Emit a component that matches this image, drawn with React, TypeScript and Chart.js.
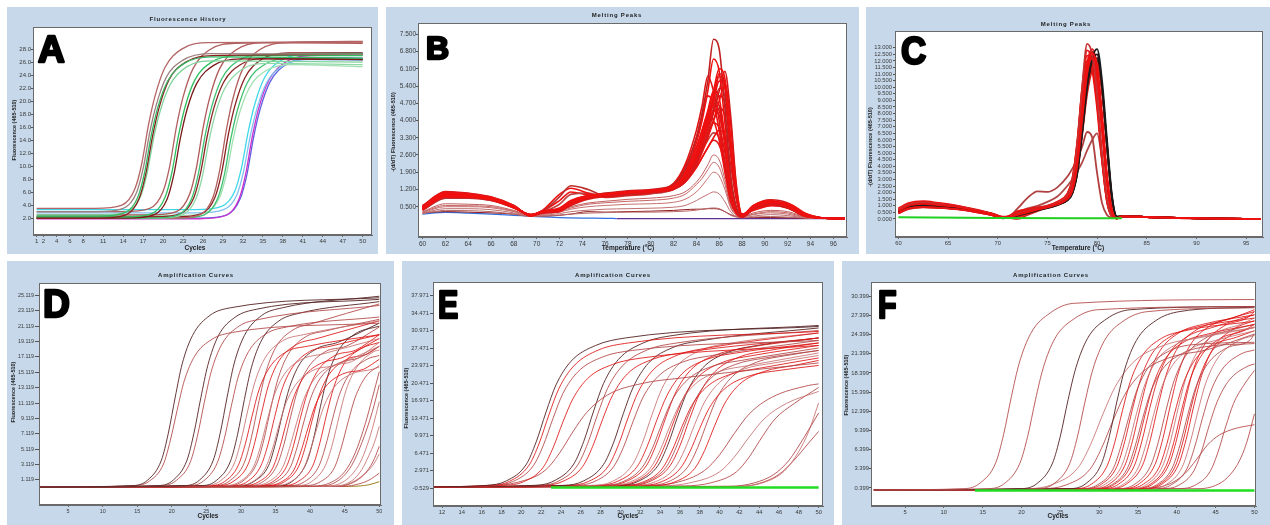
import React, { useEffect, useRef } from 'react';
import { Chart, registerables } from 'chart.js';
Chart.register(...registerables);

const FONT = '"Liberation Sans", Arial, sans-serif';
const PANEL_BG = '#c6d8ea';
const K = 'rgba(85,35,35,0.9)';
const R = 'rgba(222,20,20,0.85)';
const P = 'rgba(178,68,68,0.85)';
const L = 'rgba(200,112,112,0.85)';

// ---------- Panel A : Fluorescence History ----------
const aXTicks = [1, 2, 4, 6, 8, 11, 14, 17, 20, 23, 26, 29, 32, 35, 38, 41, 44, 47, 50];
const aYTicks = [2, 4, 6, 8, 10, 12, 14, 16, 18, 20, 22, 24, 26, 28];
const aCurves = [
  [1,3.5, 9.8,3.5, 13.8,4.0, 15.8,6.6, 16.8,10.4, 17.8,16.3, 18.8,20.8, 20.3,25.2, 22.8,28.0, 26.8,29.0, 50,29.1],
  [1,3.0, 10,3.0, 14,3.5, 16,5.9, 17,9.6, 18,15.2, 19,19.5, 20.5,23.7, 23,26.3, 27,27.3, 50,27.2],
  [1,2.3, 10.2,2.3, 14.2,2.8, 16.2,5.2, 17.2,8.9, 18.2,14.6, 19.2,19.0, 20.7,23.1, 23.2,25.8, 27.2,26.8, 50,26.6],
  [1,2.0, 10.4,2.0, 14.4,2.5, 16.4,5.0, 17.4,8.8, 18.4,14.5, 19.4,19.0, 20.9,23.3, 23.4,26.0, 27.4,27.0, 50,27.2],
  [1,2.5, 10.6,2.5, 14.6,3.0, 16.6,5.3, 17.6,8.9, 18.6,14.4, 19.6,18.6, 21.1,22.6, 23.6,25.3, 27.6,26.2, 50,26.0],
  [1,3.0, 14,3.0, 18,3.5, 20,6.1, 21,10.0, 22,16.0, 23,20.6, 24.5,25.0, 27,27.9, 31,28.9, 50,29.1],
  [1,2.2, 14.3,2.2, 18.3,2.7, 20.3,5.2, 21.3,8.9, 22.3,14.6, 23.3,19.1, 24.8,23.3, 27.3,26.0, 31.3,27.0, 50,27.0],
  [1,2.0, 14.6,2.0, 18.6,2.5, 20.6,4.9, 21.6,8.6, 22.6,14.3, 23.6,18.7, 25.1,22.8, 27.6,25.5, 31.6,26.5, 50,26.4],
  [1,2.5, 18,2.5, 22,3.0, 24,5.7, 25,9.7, 26,15.8, 27,20.5, 28.5,25.0, 31,27.9, 35,29.0, 50,28.9],
  [1,2.0, 18.3,2.0, 22.3,2.5, 24.3,5.0, 25.3,8.8, 26.3,14.6, 27.3,19.1, 28.8,23.4, 31.3,26.2, 35.3,27.2, 50,27.3],
  [1,2.2, 18.6,2.2, 22.6,2.7, 24.6,5.1, 25.6,8.8, 26.6,14.4, 27.6,18.8, 29.1,22.9, 31.6,25.6, 35.6,26.6, 50,26.4],
  [1,2.0, 18.9,2.0, 22.9,2.5, 24.9,4.9, 25.9,8.4, 26.9,13.9, 27.9,18.2, 29.4,22.2, 31.9,24.9, 35.9,25.8, 50,25.6],
  [1,2.0, 21.5,2.0, 25.5,2.5, 27.5,5.2, 28.5,9.3, 29.5,15.5, 30.5,20.4, 32,25.0, 34.5,27.9, 38.5,29.0, 50,29.2],
  [1,2.2, 21.8,2.2, 25.8,2.7, 27.8,5.2, 28.8,9.0, 29.8,14.8, 30.8,19.3, 32.3,23.6, 34.8,26.4, 38.8,27.4, 50,27.4],
  [1,2.0, 22.2,2.0, 26.2,2.5, 28.2,5.0, 29.2,8.6, 30.2,14.3, 31.2,18.7, 32.7,22.9, 35.2,25.6, 39.2,26.6, 50,26.5],
  [1,2.4, 22.5,2.4, 26.5,2.9, 28.5,5.2, 29.5,8.7, 30.5,14.0, 31.5,18.2, 33,22.1, 35.5,24.7, 39.5,25.6, 50,25.3],
  [1,3.3, 24.8,3.3, 28.8,3.8, 30.8,6.2, 31.8,9.8, 32.8,15.3, 33.8,19.6, 35.3,23.7, 37.8,26.3, 41.8,27.3, 50,27.4],
  [1,2.8, 25.1,2.8, 29.1,3.3, 31.1,5.6, 32.1,9.2, 33.1,14.6, 34.1,18.8, 35.6,22.9, 38.1,25.5, 42.1,26.4, 50,26.3],
  [1,1.9, 25.4,1.9, 29.4,2.4, 31.4,4.9, 32.4,8.7, 33.4,14.5, 34.4,19.0, 35.9,23.2, 38.4,26.0, 42.4,27.0, 50,27.1],
  [1,2.0, 25.6,2.0, 29.6,2.5, 31.6,5.0, 32.6,8.7, 33.6,14.4, 34.6,18.8, 36.1,23.0, 38.6,25.7, 42.6,26.7, 50,26.6],
];
const aColors = ['#b56565', '#9c7f7f', '#33b864', '#8b1c1c', '#7fd39a', '#b06060', '#2fbf5f', '#7a1a1a', '#b05858', '#3cc070',
  '#8b2525', '#90d8a8', '#b46060', '#8b2020', '#40c070', '#a0e0b0', '#40d8e8', '#80c0f0', '#cc30cc', '#6060e0'];

// ---------- Panel B : Melting Peaks ----------
const bXTicks = [60, 62, 64, 66, 68, 70, 72, 74, 76, 78, 80, 82, 84, 86, 88, 90, 92, 94, 96];
const bYTicks = [0.5, 1.2, 1.9, 2.6, 3.3, 4.0, 4.7, 5.4, 6.1, 6.8, 7.5];
const bTemps = [60, 62, 64, 66, 68, 69.5, 70.5, 72, 73, 74.5, 76, 78, 80, 82, 83, 84, 84.5, 85, 85.5, 86, 86.5, 87, 87.5, 88, 89, 90.5, 92, 93.5, 95, 97];
const bCurves = [
  [0.45,1.05,0.98,0.85,0.5,0.15,0.3,0.38,0.7,0.92, 1.0,1.1,1.15,1.3,1.75,2.7,3.4,4.3,5.2,6.1, 5.7,3.3,1.1,0.15,0.5,0.7,0.55,0.15,0.04,0.02],
  [0.5,1.1,1.02,0.88,0.55,0.12,0.25,0.3,0.6,0.85, 0.95,1.05,1.1,1.25,1.6,2.5,3.2,4.1,5.0,5.9, 5.5,3.0,0.9,0.12,0.45,0.65,0.6,0.2,0.04,0.02],
  [0.4,0.95,0.92,0.8,0.48,0.18,0.32,0.45,0.75,0.95, 1.02,1.12,1.18,1.35,1.8,2.6,3.2,4.0,4.8,5.6, 5.3,3.1,1.0,0.18,0.55,0.75,0.5,0.12,0.04,0.02],
  [0.55,1.12,1.05,0.9,0.55,0.14,0.26,0.32,0.55,0.8, 0.92,1.02,1.08,1.22,1.5,2.2,2.8,3.5,4.3,5.2, 6.0,4.2,1.4,0.2,0.4,0.6,0.5,0.15,0.04,0.02],
  [0.48,1.0,0.95,0.82,0.5,0.16,0.3,0.36,0.65,0.88, 0.98,1.08,1.12,1.28,1.55,2.2,2.7,3.3,4.0,4.8, 5.5,3.9,1.3,0.2,0.35,0.55,0.62,0.25,0.05,0.02],
  [0.42,0.98,0.95,0.83,0.5,0.15,0.28,0.4,0.72,0.95, 1.05,1.15,1.2,1.4,2.0,3.3,4.3,5.6,7.3,6.9, 4.5,1.8,0.5,0.1,0.45,0.6,0.45,0.12,0.04,0.02],
  [0.5,1.08,1.0,0.86,0.52,0.13,0.27,0.33,0.62,0.86, 0.96,1.06,1.1,1.32,1.9,3.1,4.0,5.2,6.5,6.0, 3.9,1.5,0.4,0.1,0.5,0.72,0.6,0.2,0.04,0.02],
  [0.45,1.0,0.96,0.84,0.5,0.15,0.29,0.36,0.68,0.9, 1.0,1.1,1.15,1.45,2.2,3.6,4.6,5.8,5.2,4.0, 2.2,0.8,0.25,0.08,0.4,0.55,0.45,0.12,0.04,0.02],
  [0.38,0.9,0.88,0.78,0.46,0.17,0.31,0.42,0.72,0.92, 1.0,1.08,1.14,1.35,1.85,2.9,3.6,4.4,5.2,4.9, 3.3,1.3,0.35,0.1,0.48,0.68,0.55,0.18,0.04,0.02],
  [0.52,1.06,0.99,0.86,0.53,0.14,0.27,0.34,0.6,0.85, 0.94,1.03,1.08,1.28,1.75,2.7,3.4,4.1,4.8,4.6, 3.2,1.4,0.4,0.12,0.55,0.78,0.65,0.22,0.05,0.02],
  [0.44,0.96,0.93,0.81,0.49,0.16,0.3,0.4,0.7,0.9, 0.99,1.09,1.14,1.4,2.1,3.3,4.2,5.0,4.7,3.6, 2.1,0.8,0.25,0.08,0.42,0.6,0.5,0.15,0.04,0.02],
  [0.47,1.02,0.97,0.84,0.51,0.15,0.28,0.37,0.66,0.88, 0.97,1.06,1.12,1.27,1.65,2.4,3.0,3.7,4.4,5.0, 4.7,2.8,0.9,0.15,0.5,0.72,0.58,0.18,0.04,0.02],
  [0.4,0.92,0.9,0.79,0.47,0.16,0.3,0.39,0.68,0.9, 0.98,1.07,1.12,1.3,1.7,2.6,3.2,3.8,4.4,4.2, 3.0,1.3,0.4,0.12,0.45,0.65,0.52,0.16,0.04,0.02],
  [0.5,1.04,0.98,0.85,0.52,0.14,0.27,0.35,0.62,0.86, 0.95,1.04,1.1,1.25,1.6,2.3,2.8,3.4,4.0,4.5, 4.2,2.6,0.9,0.15,0.48,0.7,0.62,0.2,0.04,0.02],
  [0.43,0.94,0.91,0.8,0.48,0.16,0.3,0.4,0.7,0.9, 0.98,1.07,1.12,1.35,1.9,2.9,3.6,4.2,4.0,3.2, 1.9,0.7,0.22,0.08,0.4,0.58,0.48,0.14,0.04,0.02],
  [0.46,0.98,0.94,0.82,0.5,0.15,0.29,0.37,0.65,0.87, 0.96,1.05,1.1,1.25,1.6,2.4,2.9,3.4,3.9,3.7, 2.7,1.2,0.38,0.12,0.45,0.62,0.5,0.15,0.04,0.02],
  [0.42,0.93,0.9,0.79,0.47,0.16,0.3,0.4,0.68,0.88, 0.96,1.05,1.1,1.22,1.5,2.1,2.5,2.9,3.3,3.6, 3.4,2.2,0.8,0.15,0.42,0.6,0.5,0.15,0.04,0.02],
  [0.5,1.02,0.96,0.84,0.51,0.15,0.28,0.36,0.64,0.86, 0.95,1.04,1.09,1.2,1.5,2.1,2.5,2.9,3.2,3.0, 2.2,1.0,0.35,0.12,0.5,0.7,0.6,0.2,0.04,0.02],
  [0.35,0.85,0.85,0.75,0.45,0.18,0.3,0.9,1.35,1.2, 0.95,1.0,1.08,1.25,1.6,2.4,3.0,3.7,4.5,5.3, 5.0,3.0,1.0,0.15,0.45,0.65,0.5,0.15,0.04,0.02],
  [0.38,0.88,0.87,0.77,0.46,0.17,0.35,1.0,1.25,1.05, 0.9,0.98,1.06,1.28,1.75,2.7,3.3,3.95,4.6,4.4, 3.1,1.3,0.4,0.12,0.5,0.7,0.55,0.18,0.04,0.02],
  [0.4,0.9,0.88,0.78,0.47,0.17,0.28,0.6,1.0,1.05, 0.88,0.95,1.02,1.2,1.55,2.3,2.8,3.2,3.5,3.3, 2.4,1.1,0.35,0.1,0.45,0.62,0.5,0.15,0.04,0.02],
  [0.36,0.86,0.86,0.76,0.46,0.18,0.32,0.75,1.1,0.98, 0.92,1.02,1.1,1.26,1.65,2.5,3.1,3.9,4.8,5.8, 5.4,3.1,1.0,0.15,0.4,0.55,0.45,0.12,0.04,0.02],
  [0.3,0.62,0.6,0.55,0.35,0.15,0.22,0.35,0.5,0.65, 0.72,0.8,0.85,0.95,1.1,1.5,1.8,2.2,2.6,2.4, 1.6,0.6,0.2,0.1,0.25,0.35,0.3,0.1,0.03,0.02],
  [0.28,0.55,0.54,0.5,0.32,0.14,0.2,0.32,0.45,0.6, 0.66,0.72,0.76,0.85,1.0,1.4,1.65,2.0,2.3,2.1, 1.4,0.5,0.18,0.1,0.2,0.3,0.25,0.08,0.03,0.02],
  [0.26,0.5,0.5,0.46,0.3,0.14,0.18,0.28,0.4,0.5, 0.55,0.6,0.62,0.68,0.8,1.1,1.35,1.65,1.9,1.75, 1.2,0.45,0.15,0.08,0.18,0.25,0.2,0.06,0.03,0.02],
  [0.24,0.42,0.42,0.38,0.25,0.12,0.15,0.22,0.3,0.36, 0.4,0.42,0.44,0.48,0.55,0.75,0.88,1.0,1.1,1.02, 0.7,0.3,0.1,0.06,0.12,0.18,0.14,0.05,0.02,0.02],
  [0.22,0.35,0.34,0.3,0.2,0.1,0.12,0.16,0.2,0.24, 0.26,0.28,0.28,0.3,0.32,0.36,0.4,0.43,0.45,0.42, 0.3,0.15,0.08,0.05,0.08,0.1,0.08,0.04,0.02,0.02],
  [0.25,0.3,0.28,0.25,0.2,0.12,0.12,0.15,0.2,0.3, 0.28,0.3,0.32,0.35,0.38,0.4,0.4,0.42,0.42,0.4, 0.3,0.18,0.1,0.06,0.06,0.06,0.05,0.03,0.02,0.02],
];
const bColors = ['#f01010', '#e81212', '#f01010', '#d81818', '#f01010', '#c02020', '#f01010', '#e01515', '#f01010', '#d01a1a',
  '#f01010', '#e81212', '#f01010', '#c82020', '#f01010', '#e01515', '#f01010', '#d81818', '#b83030', '#f01010',
  '#c04040', '#f01010', '#c06060', '#c86464', '#c87070', '#c07070', '#b86a6a', '#901818'];
const bBlueX = [60, 62, 64, 66, 68, 70, 72, 74, 76, 77];
const bBlueY = [0.2, 0.27, 0.24, 0.2, 0.15, 0.1, 0.06, 0.04, 0.03, 0.02];
const bFlatX = [77, 97];
const bFlatY = [0.02, 0.02];

// ---------- Panel C : Melting Peaks ----------
const cXTicks = [60, 65, 70, 75, 80, 85, 90, 95];
const cYTicks = [0, 0.5, 1, 1.5, 2, 2.5, 3, 3.5, 4, 4.5, 5, 5.5, 6, 6.5, 7, 7.5, 8, 8.5, 9, 9.5, 10, 10.5, 11, 11.5, 12, 12.5, 13];
const cTemps = [60, 61, 62.5, 64, 66, 68, 69.5, 70.5, 71, 72, 73, 74, 75, 76, 77, 77.5, 78, 78.5, 79, 79.5, 80, 80.5, 81, 81.5, 82, 82.5, 85, 88, 92, 96.5];
const cCurves = [
  [0.6,1.0,1.15,1.05,0.9,0.6,0.35,0.12,0.15,0.35, 0.55,0.75,0.9,1.15,1.6,2.3,4.5,8.0,11.5,12.6, 11.4,7.5,3.0,0.5,0.05,0.2,0.15,0.08,0.03,0.0],
  [0.45,0.8,0.92,0.86,0.74,0.5,0.28,0.08,0.1,0.3, 0.5,0.7,0.88,1.1,1.5,2.1,4.0,7.5,11.0,12.2, 11.2,7.8,3.4,0.7,0.08,0.2,0.15,0.08,0.03,0.0],
  [0.7,1.1,1.25,1.12,0.95,0.64,0.38,0.15,0.18,0.4, 0.6,0.8,0.98,1.25,1.8,2.8,5.5,10.0,13.3,12.5, 9.5,5.0,1.5,0.2,0.05,0.18,0.14,0.07,0.03,0.0],
  [0.5,0.9,1.05,0.98,0.82,0.55,0.3,0.05,0.08,0.25, 0.45,0.65,0.82,1.05,1.4,1.9,3.4,6.5,10.0,12.2, 12.9,10.5,6.0,1.8,0.2,0.2,0.15,0.08,0.03,0.0],
  [0.62,1.02,1.18,1.08,0.92,0.62,0.36,0.13,0.16,0.36, 0.56,0.76,0.92,1.12,1.5,2.0,3.6,6.8,10.2,12.0, 12.5,10.0,5.5,1.5,0.15,0.2,0.15,0.08,0.03,0.0],
  [0.65,1.05,1.2,1.1,0.92,0.62,0.36,0.1,0.14,0.2, 0.45,0.7,0.92,1.2,1.7,2.5,4.8,8.2,11.0,11.8, 10.5,6.8,2.7,0.45,0.05,0.2,0.15,0.08,0.03,0.0],
  [0.58,0.98,1.12,1.03,0.88,0.59,0.34,0.1,0.12,0.5, 0.68,0.82,0.95,1.18,1.65,2.4,4.7,8.3,11.8,12.9, 11.6,7.6,3.1,0.5,0.05,0.2,0.15,0.08,0.03,0.0],
  [0.8,1.2,1.35,1.22,1.0,0.68,0.4,0.18,0.2,0.6, 0.75,0.88,1.02,1.3,1.9,3.0,5.8,9.8,12.4,11.8, 8.8,4.5,1.3,0.2,0.05,0.18,0.14,0.07,0.03,0.0],
  [0.42,0.75,0.88,0.84,0.72,0.5,0.27,0.06,0.1,0.0, 0.3,0.6,0.85,1.05,1.45,2.0,3.5,6.4,9.5,11.3, 11.8,9.6,5.4,1.5,0.15,0.2,0.15,0.08,0.03,0.0],
  [0.6,1.0,1.16,1.06,0.9,0.6,0.35,0.1,0.15,0.45, 0.62,0.78,0.94,1.16,1.6,2.3,4.4,7.9,11.3,12.3, 11.1,7.3,2.9,0.5,0.05,0.2,0.15,0.08,0.03,0.0],
  [0.68,1.08,1.22,1.1,0.93,0.63,0.37,0.14,0.17,0.25, 0.5,0.72,0.9,1.15,1.65,2.4,4.6,7.8,10.6,11.5, 10.3,6.8,2.8,0.5,0.05,0.2,0.15,0.08,0.03,0.0],
  [0.56,0.96,1.1,1.02,0.86,0.58,0.33,0.1,0.12,0.35, 0.55,0.75,0.95,1.25,1.85,2.9,5.6,9.5,12.0,11.3, 8.4,4.4,1.3,0.2,0.05,0.18,0.14,0.07,0.03,0.0],
  [0.64,1.04,1.2,1.09,0.92,0.62,0.36,0.12,0.15,0.3, 0.5,0.72,0.9,1.1,1.45,1.95,3.5,6.6,9.9,11.7, 12.2,9.9,5.6,1.6,0.15,0.2,0.15,0.08,0.03,0.0],
  [0.45,0.78,0.9,0.85,0.74,0.5,0.28,0.06,0.1,0.55, 0.7,0.85,0.98,1.2,1.7,2.5,4.9,8.4,11.3,12.0, 10.6,6.9,2.7,0.45,0.05,0.2,0.15,0.08,0.03,0.0],
  [0.62,1.02,1.18,1.08,0.91,0.61,0.36,0.12,0.14,0.15, 0.4,0.65,0.86,1.1,1.55,2.2,4.3,7.8,11.4,12.7, 11.5,7.6,3.0,0.5,0.05,0.2,0.15,0.08,0.03,0.0],
  [0.55,0.95,1.1,1.02,0.86,0.58,0.33,0.1,0.12,0.8, 1.6,2.1,2.05,2.4,3.2,3.8,4.5,5.5,6.6,6.2, 3.5,1.2,0.3,0.1,0.05,0.18,0.14,0.07,0.03,0.0],
  [0.6,1.0,1.15,1.05,0.9,0.6,0.35,0.1,0.15,0.5, 0.8,1.0,1.3,1.7,2.5,3.0,3.6,4.3,5.2,6.0, 6.5,4.5,1.5,0.3,0.05,0.2,0.15,0.08,0.03,0.0],
  [0.72,1.14,1.3,1.16,0.97,0.65,0.39,0.13,0.16,0.38, 0.58,0.77,0.93,1.14,1.58,2.25,4.4,8.0,11.6,12.4, 11.3,7.5,3.0,0.5,0.05,0.2,0.15,0.08,0.03,0.0],
  [0.54,0.94,1.1,1.01,0.85,0.57,0.32,0.08,0.11,0.32, 0.52,0.7,0.86,1.08,1.45,2.0,3.6,6.9,10.3,11.8, 12.0,9.8,5.6,1.6,0.15,0.2,0.15,0.08,0.03,0.0],
  [0.5,0.85,0.98,0.92,0.8,0.55,0.3,0.12,0.15,0.42, 0.6,0.8,1.0,1.3,1.9,3.0,5.8,10.0,12.8,12.0, 9.0,4.6,1.4,0.2,0.05,0.18,0.14,0.07,0.03,0.0],
];
const cColors = ['#f01010', '#e81414', '#c83030', '#1a1a1a', '#2a1010', '#f01010', '#e01515', '#f01010', '#d01a1a', '#f01010',
  '#e81414', '#f01010', '#401010', '#f01010', '#e01515', '#b04040', '#b04848', '#f01010', '#1a1a1a', '#e81414'];
const cGreenX = [60, 70, 82.5];
const cGreenY = [0.12, 0.08, 0.05];

// ---------- Panel D : Amplification Curves ----------
const dXTicks = [5, 10, 15, 20, 25, 30, 35, 40, 45, 50];
const dYTicks = [1.119, 3.119, 5.119, 7.119, 9.119, 11.119, 13.119, 15.119, 17.119, 19.119, 21.119, 23.119, 25.119];
const dCurves = [
  [1,0.2, 14.5,0.4, 16.5,1.1, 18.5,3.7, 19.5,7.2, 20.5,11.9, 21.5,16.2, 23,19.9, 25.5,22.5, 28.5,23.5, 50,24.8],
  [1,0.2, 14.8,0.4, 16.8,1.0, 18.8,3.2, 19.8,6.3, 20.8,10.3, 21.8,14.0, 23.3,17.2, 25.8,19.4, 28.8,20.3, 50,21.5],
  [1,0.2, 18.2,0.4, 20.2,1.1, 22.2,3.7, 23.2,7.2, 24.2,11.8, 25.2,16.0, 26.7,19.8, 29.2,22.3, 32.2,23.3, 50,24.6],
  [1,0.2, 18.7,0.4, 20.7,1.1, 22.7,3.5, 23.7,6.8, 24.7,11.2, 25.7,15.2, 27.2,18.7, 29.7,21.1, 32.7,22.0, 50,23.8],
  [1,0.2, 22,0.4, 24,1.1, 26,3.7, 27,7.2, 28,11.9, 29,16.2, 30.5,19.9, 33,22.5, 36,23.5, 50,25.0],
  [1,0.2, 22.6,0.4, 24.6,1.0, 26.6,3.4, 27.6,6.5, 28.6,10.7, 29.6,14.5, 31.1,17.8, 33.6,20.1, 36.6,21.0, 50,22.3],
  [1,0.2, 24.5,0.4, 26.5,1.1, 28.5,3.6, 29.5,7.0, 30.5,11.6, 31.5,15.7, 33,19.3, 35.5,21.8, 38.5,22.8, 50,24.3],
  [1,0.2, 25,0.4, 27,1.0, 29,3.2, 30,6.2, 31,10.2, 32,13.8, 33.5,17.0, 36,19.2, 39,20.0, 50,21.8],
  [1,0.2, 25.6,0.4, 27.6,0.9, 29.6,3.0, 30.6,5.7, 31.6,9.4, 32.6,12.8, 34.1,15.7, 36.6,17.8, 39.6,18.5, 50,20.0],
  [1,0.2, 26.5,0.4, 28.5,1.1, 30.5,3.4, 31.5,6.6, 32.5,10.9, 33.5,14.8, 35,18.3, 37.5,20.6, 40.5,21.5, 50,24.0],
  [1,0.2, 27,0.4, 29,1.0, 31,3.1, 32,6.0, 33,9.9, 34,13.5, 35.5,16.6, 38,18.7, 41,19.5, 50,21.8],
  [1,0.2, 27.8,0.4, 29.8,0.9, 31.8,2.8, 32.8,5.4, 33.8,8.9, 34.8,12.1, 36.3,14.9, 38.8,16.8, 41.8,17.5, 50,19.5],
  [1,0.2, 28.3,0.4, 30.3,1.0, 32.3,3.3, 33.3,6.3, 34.3,10.4, 35.3,14.1, 36.8,17.4, 39.3,19.7, 42.3,20.5, 50,22.0],
  [1,0.2, 28.9,0.4, 30.9,0.9, 32.9,3.0, 33.9,5.7, 34.9,9.4, 35.9,12.8, 37.4,15.7, 39.9,17.8, 42.9,18.5, 50,20.0],
  [1,0.2, 29.5,0.4, 31.5,0.8, 33.5,2.6, 34.5,5.0, 35.5,8.2, 36.5,11.1, 38,13.6, 40.5,15.4, 43.5,16.0, 50,18.5],
  [1,0.2, 30,0.4, 32,1.0, 34,3.0, 35,5.9, 36,9.7, 37,13.1, 38.5,16.2, 41,18.2, 44,19.0, 50,21.5],
  [1,0.2, 30.6,0.4, 32.6,0.9, 34.6,2.7, 35.6,5.3, 36.6,8.7, 37.6,11.8, 39.1,14.5, 41.6,16.3, 44.6,17.0, 50,19.5],
  [1,0.2, 31.2,0.4, 33.2,0.9, 35.2,3.0, 36.2,5.7, 37.2,9.4, 38.2,12.8, 39.7,15.7, 42.2,17.8, 45.2,18.5, 50,21.0],
  [1,0.2, 32,0.4, 34,0.9, 36,2.7, 37,5.2, 38,8.4, 39,11.4, 40.5,14.1, 43,15.9, 46,16.5, 50,19.0],
  [1,0.2, 32.6,0.4, 34.6,0.9, 36.6,2.9, 37.6,5.6, 38.6,9.2, 39.6,12.4, 41.1,15.3, 43.6,17.3, 46.6,18.0, 50,20.0],
  [1,0.2, 33.1,0.4, 35.1,0.9, 37.1,2.7, 38.1,5.3, 39.1,8.7, 40.1,11.8, 41.6,14.5, 44.1,16.3, 47.1,17.0, 50,18.5],
  [1,0.2, 33.7,0.4, 35.7,0.8, 37.7,2.5, 38.7,4.9, 39.7,7.9, 40.7,10.7, 42.2,13.2, 44.7,14.9, 47.7,15.5, 50,16.8],
  [1,0.2, 34.3,0.4, 36.3,0.9, 38.3,2.8, 39.3,5.4, 40.3,8.9, 41.3,12.1, 42.8,14.9, 45.3,16.8, 48.3,17.5, 50,18.5],
  [1,0.2, 35,0.4, 37,0.8, 39,2.5, 40,4.9, 41,7.9, 42,10.7, 43.5,13.2, 46,14.9, 49,15.5, 50,15.8],
  [1,0.2, 35.5,0.4, 37.5,1.0, 39.5,3.4, 40.5,6.5, 41.5,10.7, 42.5,14.5, 44,17.8, 46.5,20.1, 49.5,21.0, 50,21.1],
  [1,0.2, 36.4,0.4, 38.4,1.0, 40.4,3.0, 41.4,5.9, 42.4,9.7, 43.4,13.1, 44.9,16.2, 47.4,18.2, 50,19.0],
  [1,0.2, 37.2,0.4, 39.2,0.9, 41.2,2.8, 42.2,5.4, 43.2,8.9, 44.2,12.1, 45.7,14.9, 48.2,16.8, 50,17.3],
  [1,0.2, 38.2,0.4, 40.2,0.9, 42.2,3.0, 43.2,5.7, 44.2,9.4, 45.2,12.8, 46.7,15.7, 49.2,17.8, 50,18.0],
  [1,0.2, 39.5,0.4, 41.5,0.9, 43.5,2.7, 44.5,5.3, 45.5,8.7, 46.5,11.8, 48,14.5, 50,16.0],
  [1,0.2, 40,0.3, 43,0.8, 45,2.2, 46.5,4.6, 48,8.5, 49,11.8, 50,15.2],
  [1,0.2, 42,0.3, 45,1.0, 47,3.0, 48,5.0, 49,7.8, 50,11.3],
  [1,0.2, 41,0.3, 44,1.0, 46,3.0, 47.5,6.0, 49,10.0, 50,13.5],
  [1,0.2, 43,0.3, 46,1.0, 47.5,2.5, 48.5,4.3, 49.3,6.0, 50,8.1],
  [1,0.2, 44,0.3, 47,1.2, 48.5,2.6, 49.3,3.9, 50,5.5],
  [1,0.2, 44,0.3, 46,0.8, 48,2.0, 49.2,3.2, 50,4.5],
  [1,0.2, 45,0.3, 47,0.6, 48.5,1.1, 50,2.0],
  [1,0.2, 46,0.3, 48.5,0.5, 50,0.9],
];
const dColors = [K, P, K, P, K, P, K, L, R, P, R, L, P, R, L, K, R, P, L, R, P, R, R, L, K, R, P, L, P, P, L, P, L, P, L, P, '#a08020'];

// ---------- Panel E : Amplification Curves ----------
const eXTicks = [12, 14, 16, 18, 20, 22, 24, 26, 28, 30, 32, 34, 36, 38, 40, 42, 44, 46, 48, 50];
const eYTicks = [-0.529, 2.971, 6.471, 9.971, 13.471, 16.971, 20.471, 23.971, 27.471, 30.971, 34.471, 37.971];
const eCurves = [
  [11,-0.3, 16.5,0.0, 18.5,0.9, 20.5,4.2, 21.5,8.7, 22.5,14.7, 23.5,20.1, 25,24.8, 27.5,28.0, 30.5,29.5, 50,31.8],
  [11,-0.3, 16.8,0.0, 18.8,0.8, 20.8,4.1, 21.8,8.4, 22.8,14.2, 23.8,19.4, 25.3,23.9, 27.8,27.1, 30.8,28.5, 50,30.8],
  [11,-0.3, 17.2,0.0, 19.2,0.8, 21.2,3.9, 22.2,7.9, 23.2,13.4, 24.2,18.4, 25.7,22.7, 28.2,25.7, 31.2,27.0, 50,29.0],
  [11,-0.3, 18.2,0.0, 20.2,0.7, 22.2,3.6, 23.2,7.5, 24.2,12.7, 25.2,17.3, 26.7,21.4, 29.2,24.2, 32.2,25.5, 50,28.0],
  [11,-0.3, 16.8,-0.1, 19.6,0.6, 22.4,3.0, 23.8,6.3, 25.2,10.7, 26.6,14.6, 28.7,18.1, 32.2,20.4, 36.2,21.5, 50,24.5],
  [11,-0.3, 21.3,0.0, 23.3,0.9, 25.3,4.3, 26.3,8.8, 27.3,14.9, 28.3,20.4, 29.8,25.2, 32.3,28.5, 35.3,30.0, 50,32.0],
  [11,-0.3, 21.7,0.0, 23.7,0.8, 25.7,4.1, 26.7,8.4, 27.7,14.2, 28.7,19.4, 30.2,23.9, 32.7,27.1, 35.7,28.5, 50,31.0],
  [11,-0.3, 22.2,0.0, 24.2,0.8, 26.2,3.8, 27.2,7.8, 28.2,13.2, 29.2,18.0, 30.7,22.3, 33.2,25.2, 36.2,26.5, 50,29.5],
  [11,-0.3, 24.3,0.0, 26.3,0.9, 28.3,4.2, 29.3,8.5, 30.3,14.4, 31.3,19.7, 32.8,24.4, 35.3,27.6, 38.3,29.0, 50,31.5],
  [11,-0.3, 24.8,0.0, 26.8,0.8, 28.8,3.9, 29.8,8.1, 30.8,13.7, 31.8,18.7, 33.3,23.1, 35.8,26.1, 38.8,27.5, 50,30.5],
  [11,-0.3, 25.3,0.0, 27.3,0.7, 29.3,3.7, 30.3,7.6, 31.3,12.9, 32.3,17.7, 33.8,21.8, 36.3,24.7, 39.3,26.0, 50,29.0],
  [11,-0.3, 27.2,0.0, 29.2,0.8, 31.2,4.1, 32.2,8.4, 33.2,14.2, 34.2,19.4, 35.7,23.9, 38.2,27.1, 41.2,28.5, 50,30.5],
  [11,-0.3, 27.7,0.0, 29.7,0.8, 31.7,3.8, 32.7,7.8, 33.7,13.2, 34.7,18.0, 36.2,22.3, 38.7,25.2, 41.7,26.5, 50,28.5],
  [11,-0.3, 28.2,0.0, 30.2,0.7, 32.2,3.6, 33.2,7.3, 34.2,12.4, 35.2,17.0, 36.7,21.0, 39.2,23.8, 42.2,25.0, 50,27.5],
  [11,-0.3, 28.6,0.0, 30.6,0.8, 32.6,3.9, 33.6,8.1, 34.6,13.7, 35.6,18.7, 37.1,23.1, 39.6,26.1, 42.6,27.5, 50,29.5],
  [11,-0.3, 29,0.0, 31,0.7, 33,3.4, 34,7.0, 35,11.9, 36,16.3, 37.5,20.2, 40,22.8, 43,24.0, 50,26.5],
  [11,-0.3, 29.4,0.0, 31.4,0.7, 33.4,3.7, 34.4,7.6, 35.4,12.9, 36.4,17.7, 37.9,21.8, 40.4,24.7, 43.4,26.0, 50,28.0],
  [11,-0.3, 29.8,0.0, 31.8,0.8, 33.8,4.0, 34.8,8.2, 35.8,13.9, 36.8,19.0, 38.3,23.5, 40.8,26.6, 43.8,28.0, 50,29.5],
  [11,-0.3, 30.2,0.0, 32.2,0.6, 34.2,3.3, 35.2,6.9, 36.2,11.7, 37.2,16.0, 38.7,19.7, 41.2,22.3, 44.2,23.5, 50,25.5],
  [11,-0.3, 30.6,0.0, 32.6,0.7, 34.6,3.6, 35.6,7.5, 36.6,12.7, 37.6,17.3, 39.1,21.4, 41.6,24.2, 44.6,25.5, 50,27.0],
  [11,-0.3, 31,0.0, 33,0.8, 35,3.9, 36,7.9, 37,13.4, 38,18.4, 39.5,22.7, 42,25.7, 45,27.0, 50,28.5],
  [11,-0.3, 31.5,0.0, 33.5,0.7, 35.5,3.5, 36.5,7.2, 37.5,12.2, 38.5,16.7, 40,20.6, 42.5,23.3, 45.5,24.5, 50,26.0],
  [11,-0.3, 32,0.0, 34,0.6, 36,3.3, 37,6.7, 38,11.4, 39,15.6, 40.5,19.3, 43,21.9, 46,23.0, 50,24.0],
  [11,-0.3, 32.8,0.0, 34.8,0.7, 36.8,3.7, 37.8,7.6, 38.8,12.9, 39.8,17.7, 41.3,21.8, 43.8,24.7, 46.8,26.0, 50,27.0],
  [11,-0.3, 33.5,0.0, 35.5,0.7, 37.5,3.4, 38.5,7.0, 39.5,11.9, 40.5,16.3, 42,20.2, 44.5,22.8, 47.5,24.0, 50,25.0],
  [11,-0.3, 32.5,-0.1, 35.5,0.5, 38.5,3.0, 40,6.1, 41.5,10.4, 43,14.3, 45.25,17.6, 49,20.0, 50,20.3],
  [11,-0.3, 34,-0.1, 37,0.5, 40,2.7, 41.5,5.7, 43,9.7, 44.5,13.3, 46.75,16.4, 50,18.8],
  [11,-0.3, 36.5,-0.1, 39.1,0.5, 41.7,2.7, 43,5.7, 44.3,9.7, 45.6,13.3, 47.55,16.4, 50,19.6],
  [11,-0.3, 41,-0.2, 43.5,0.5, 45.5,2.2, 47,5.0, 48.5,9.5, 50,14.5],
  [11,-0.3, 42,-0.2, 44.5,0.6, 46.5,2.8, 48,6.8, 49,10.8, 50,16.5],
  [11,-0.3, 42,-0.2, 44,0.4, 46,2.2, 47.5,5.0, 49,8.5, 50,10.8],
];
const eColors = [K, R, P, R, P, K, P, R, K, R, P, L, R, P, R, L, R, K, R, P, R, L, R, P, R, P, L, P, P, L, P];
const eGreenX = [23, 50];
const eGreenY = [-0.45, -0.45];

// ---------- Panel F : Amplification Curves ----------
const fXTicks = [5, 10, 15, 20, 25, 30, 35, 40, 45, 50];
const fYTicks = [0.399, 3.399, 6.399, 9.399, 12.399, 15.399, 18.399, 21.399, 24.399, 27.399, 30.399];
const fCurves = [
  [1,0.1, 12.7,0.3, 14.7,1.2, 16.7,4.4, 17.7,8.8, 18.7,14.7, 19.7,19.9, 21.2,24.6, 23.7,27.8, 26.7,29.3, 50,29.9],
  [1,0.1, 15.8,0.3, 17.8,1.1, 19.8,4.3, 20.8,8.5, 21.8,14.2, 22.8,19.2, 24.3,23.8, 26.8,26.9, 29.8,28.3, 50,28.8],
  [1,0.1, 20,0.3, 22,1.1, 24,4.3, 25,8.5, 26,14.2, 27,19.2, 28.5,23.8, 31,26.9, 34,28.3, 50,28.8],
  [1,0.1, 22.2,0.3, 24.2,1.1, 26.2,4.2, 27.2,8.4, 28.2,14.0, 29.2,19.0, 30.7,23.5, 33.2,26.6, 36.2,28.0, 50,28.6],
  [1,0.1, 26.3,0.3, 28.3,1.1, 30.3,4.2, 31.3,8.4, 32.3,14.0, 33.3,19.0, 34.8,23.5, 37.3,26.6, 40.3,28.0, 50,28.7],
  [1,0.1, 20.9,0.3, 24.1,1.0, 27.3,3.6, 28.9,7.2, 30.5,12.0, 32.1,16.3, 34.5,20.2, 38.5,22.8, 43.3,24.0, 50,25.5],
  [1,0.1, 22.8,0.3, 25.8,0.9, 28.8,3.3, 30.3,6.6, 31.8,11.0, 33.3,15.0, 35.55,18.5, 39.3,20.9, 43.8,22.0, 50,24.5],
  [1,0.1, 27,0.3, 29,1.0, 31,3.8, 32,7.5, 33,12.5, 34,17.0, 35.5,21.0, 38,23.8, 41,25.0, 50,26.5],
  [1,0.1, 27.8,0.3, 29.8,0.9, 31.8,3.4, 32.8,6.9, 33.8,11.4, 34.8,15.5, 36.3,19.2, 38.8,21.7, 41.8,22.8, 50,23.2],
  [1,0.1, 28.3,0.3, 30.3,1.0, 32.3,3.8, 33.3,7.7, 34.3,12.8, 35.3,17.3, 36.8,21.4, 39.3,24.2, 42.3,25.5, 50,27.0],
  [1,0.1, 28.8,0.3, 30.8,1.0, 32.8,3.6, 33.8,7.2, 34.8,12.0, 35.8,16.3, 37.3,20.2, 39.8,22.8, 42.8,24.0, 50,25.5],
  [1,0.1, 29.3,0.3, 31.3,1.0, 33.3,3.9, 34.3,7.8, 35.3,13.0, 36.3,17.7, 37.8,21.8, 40.3,24.7, 43.3,26.0, 50,27.5],
  [1,0.1, 29.6,0.3, 31.6,0.9, 33.6,3.4, 34.6,6.8, 35.6,11.3, 36.6,15.3, 38.1,18.9, 40.6,21.4, 43.6,22.5, 50,23.0],
  [1,0.1, 30,0.3, 32,1.0, 34,3.7, 35,7.4, 36,12.3, 37,16.7, 38.5,20.6, 41,23.3, 44,24.5, 50,26.0],
  [1,0.1, 30.5,0.3, 32.5,1.0, 34.5,3.8, 35.5,7.7, 36.5,12.8, 37.5,17.3, 39,21.4, 41.5,24.2, 44.5,25.5, 50,27.5],
  [1,0.1, 31,0.3, 33,0.9, 35,3.5, 36,7.1, 37,11.8, 38,16.0, 39.5,19.7, 42,22.3, 45,23.5, 50,25.0],
  [1,0.1, 31.6,0.3, 33.6,1.1, 35.6,4.0, 36.6,8.0, 37.6,13.3, 38.6,18.0, 40.1,22.3, 42.6,25.2, 45.6,26.5, 50,28.0],
  [1,0.1, 32.6,0.3, 34.6,1.0, 36.6,3.8, 37.6,7.5, 38.6,12.5, 39.6,17.0, 41.1,21.0, 43.6,23.8, 46.6,25.0, 50,26.0],
  [1,0.1, 33.2,0.3, 35.2,1.1, 37.2,4.1, 38.2,8.1, 39.2,13.5, 40.2,18.4, 41.7,22.7, 44.2,25.7, 47.2,27.0, 50,28.3],
  [1,0.1, 33.7,0.3, 35.7,1.0, 37.7,3.6, 38.7,7.2, 39.7,12.0, 40.7,16.3, 42.2,20.2, 44.7,22.8, 47.7,24.0, 50,25.0],
  [1,0.1, 34.2,0.3, 36.2,1.0, 38.2,3.9, 39.2,7.8, 40.2,13.0, 41.2,17.7, 42.7,21.8, 45.2,24.7, 48.2,26.0, 50,27.0],
  [1,0.1, 34.6,0.3, 36.6,1.0, 38.6,3.8, 39.6,7.5, 40.6,12.5, 41.6,17.0, 43.1,21.0, 45.6,23.8, 48.6,25.0, 50,26.0],
  [1,0.1, 35,0.3, 37,1.1, 39,4.1, 40,8.1, 41,13.5, 42,18.4, 43.5,22.7, 46,25.7, 49,27.0, 50,28.0],
  [1,0.1, 35.4,0.3, 37.4,0.9, 39.4,3.5, 40.4,7.1, 41.4,11.8, 42.4,16.0, 43.9,19.7, 46.4,22.3, 49.4,23.5, 50,24.5],
  [1,0.1, 35.8,0.3, 37.8,1.0, 39.8,3.8, 40.8,7.7, 41.8,12.8, 42.8,17.3, 44.3,21.4, 46.8,24.2, 49.8,25.5, 50,25.6],
  [1,0.1, 36.2,0.3, 38.2,1.1, 40.2,4.0, 41.2,8.0, 42.2,13.3, 43.2,18.0, 44.7,22.3, 47.2,25.2, 50,26.6],
  [1,0.1, 36.7,0.3, 38.7,1.0, 40.7,3.7, 41.7,7.4, 42.7,12.3, 43.7,16.7, 45.2,20.6, 47.7,23.3, 50,24.3],
  [1,0.1, 37.3,0.3, 39.3,0.9, 41.3,3.4, 42.3,6.8, 43.3,11.3, 44.3,15.3, 45.8,18.9, 48.3,21.4, 50,22.0],
  [1,0.1, 38.2,0.3, 40.2,0.8, 42.2,3.1, 43.2,6.2, 44.2,10.3, 45.2,13.9, 46.7,17.2, 49.2,19.5, 50,19.8],
  [1,0.1, 40.3,0.3, 42.3,0.8, 44.3,3.0, 45.3,6.0, 46.3,10.0, 47.3,13.6, 48.8,16.8, 50,18.8],
  [1,0.1, 36,0.3, 39,1.0, 41,2.6, 42.5,4.8, 44,7.2, 45.5,8.7, 47.5,9.7, 50,10.3],
  [1,0.1, 43,0.3, 45,0.8, 46.5,2.0, 48,4.5, 49,7.5, 50,12.0],
];
const fColors = [P, P, K, P, K, L, P, R, P, R, L, R, P, R, R, L, R, P, R, R, L, R, R, P, R, R, L, P, P, P, P, P];
const fGreenX = [14, 50];
const fGreenY = [0.0, 0.0];

// ---------- helpers ----------
const toPts = (flat: number[]) => {
  const out: { x: number; y: number }[] = [];
  for (let i = 0; i < flat.length; i += 2) out.push({ x: flat[i], y: flat[i + 1] });
  return out;
};
const onGrid = (xs: number[], ys: number[]) => xs.map((x, i) => ({ x, y: ys[i] }));
const line = (data: any[], color: string, width = 1) => ({
  data,
  borderColor: color,
  borderWidth: width,
  pointRadius: 0,
  pointHoverRadius: 0,
  fill: false,
  cubicInterpolationMode: 'monotone',
});

type Spec = {
  id: string;
  box: [number, number, number, number];
  inset: [number, number, number, number];
  xr: [number, number];
  yr: [number, number];
  xTicks: number[];
  yTicks: number[];
  yDec: number;
  tickSize: number;
  yTickLen: number;
  yPad: number;
  datasets: any[];
  title: string;
  titlePos: [number, number];
  xTitle: string;
  xTitlePos: [number, number];
  yTitle: string;
  yTitlePos: [number, number];
  letter: string;
  letterPos: [number, number];
  letterSize: number;
  letterScale: number;
};

const specs: Spec[] = [
  {
    id: 'A', box: [7, 7, 371, 247], inset: [26, 20, 6, 19], xr: [0.45, 51.4], yr: [-0.6, 31.4],
    xTicks: aXTicks, yTicks: aYTicks, yDec: 1, tickSize: 6, yTickLen: 2, yPad: 0,
    datasets: aCurves.map((c, i) => line(toPts(c), aColors[i], 1.3)),
    title: 'Fluorescence History', titlePos: [181, 12],
    xTitle: 'Cycles', xTitlePos: [188, 241],
    yTitle: 'Fluorescence (465-510)', yTitlePos: [7, 123],
    letter: 'A', letterPos: [31, 55], letterSize: 37, letterScale: 1,
  },
  {
    id: 'B', box: [386, 7, 473, 247], inset: [32, 16, 12, 17], xr: [59.6, 97.2], yr: [-0.73, 7.96],
    xTicks: bXTicks, yTicks: bYTicks, yDec: 3, tickSize: 6.5, yTickLen: 2, yPad: 0,
    datasets: [
      ...bCurves.map((c, i) => line(onGrid(bTemps, c), bColors[i], i < 22 ? 1.6 : 1)),
      line(onGrid(bBlueX, bBlueY), '#3070e0', 1.2),
      line(onGrid(bFlatX, bFlatY), '#603090', 1.2),
    ],
    title: 'Melting Peaks', titlePos: [231, 8],
    xTitle: 'Temperature (°C)', xTitlePos: [242, 241],
    yTitle: '-(d/dT) Fluorescence (465-510)', yTitlePos: [7, 125],
    letter: 'B', letterPos: [40, 52], letterSize: 32, letterScale: 1,
  },
  {
    id: 'C', box: [866, 7, 404, 247], inset: [29, 24, 7, 17], xr: [59.66, 96.7], yr: [-1.37, 14.27],
    xTicks: cXTicks, yTicks: cYTicks, yDec: 3, tickSize: 5.8, yTickLen: 2, yPad: 1,
    datasets: [
      line(onGrid(cGreenX, cGreenY), '#20d020', 2),
      ...cCurves.map((c, i) => line(onGrid(cTemps, c), cColors[i], 1.8)),
    ],
    title: 'Melting Peaks', titlePos: [200, 17],
    xTitle: 'Temperature (°C)', xTitlePos: [212, 241],
    yTitle: '-(d/dT) Fluorescence (465-510)', yTitlePos: [4, 140],
    letter: 'C', letterPos: [35, 57], letterSize: 38, letterScale: 0.92,
  },
  {
    id: 'D', box: [7, 261, 387, 264], inset: [32, 22, 13, 20], xr: [0.8, 50.25], yr: [-2.13, 26.72],
    xTicks: dXTicks, yTicks: dYTicks, yDec: 3, tickSize: 5.4, yTickLen: 4, yPad: 1,
    datasets: dCurves.map((c, i) => line(toPts(c), dColors[i], 1)),
    title: 'Amplification Curves', titlePos: [189, 14],
    xTitle: 'Cycles', xTitlePos: [201, 255],
    yTitle: 'Fluorescence (465-510)', yTitlePos: [6, 131],
    letter: 'D', letterPos: [36, 56], letterSize: 38, letterScale: 0.98,
  },
  {
    id: 'E', box: [402, 261, 432, 264], inset: [31, 21, 11, 19], xr: [11.09, 50.44], yr: [-4.13, 40.7],
    xTicks: eXTicks, yTicks: eYTicks, yDec: 3, tickSize: 5.8, yTickLen: 3, yPad: 1,
    datasets: [
      line(onGrid(eGreenX, eGreenY), '#22dd22', 2.5),
      ...eCurves.map((c, i) => line(toPts(c), eColors[i], 1)),
    ],
    title: 'Amplification Curves', titlePos: [211, 14],
    xTitle: 'Cycles', xTitlePos: [226, 255],
    yTitle: 'Fluorescence (465-510)', yTitlePos: [4, 137],
    letter: 'E', letterPos: [36, 57], letterSize: 38, letterScale: 0.8,
  },
  {
    id: 'F', box: [842, 261, 428, 264], inset: [29, 21, 14, 19], xr: [0.62, 50.2], yr: [-2.42, 32.64],
    xTicks: fXTicks, yTicks: fYTicks, yDec: 3, tickSize: 5.8, yTickLen: 2, yPad: 0,
    datasets: [
      line(onGrid(fGreenX, fGreenY), '#22dd22', 2.5),
      ...fCurves.map((c, i) => line(toPts(c), fColors[i], 1)),
    ],
    title: 'Amplification Curves', titlePos: [209, 14],
    xTitle: 'Cycles', xTitlePos: [216, 255],
    yTitle: 'Fluorescence (465-510)', yTitlePos: [4, 124],
    letter: 'F', letterPos: [36, 57], letterSize: 38, letterScale: 0.8,
  },
];

const decorPlugin = (s: Spec) => ({
  id: 'decor' + s.id,
  beforeDraw(chart: any) {
    const { ctx, chartArea: a } = chart;
    ctx.save();
    ctx.fillStyle = '#ffffff';
    ctx.fillRect(a.left, a.top, a.right - a.left, a.bottom - a.top);
    ctx.restore();
  },
  afterDraw(chart: any) {
    const { ctx, chartArea: a } = chart;
    ctx.save();
    ctx.strokeStyle = '#6a6a6a';
    ctx.lineWidth = 1;
    ctx.strokeRect(Math.round(a.left) + 0.5, Math.round(a.top) + 0.5, Math.round(a.right - a.left) - 1, Math.round(a.bottom - a.top) - 1);
    ctx.fillStyle = '#1e1e1e';
    ctx.textAlign = 'center';
    ctx.textBaseline = 'middle';
    ctx.font = `bold 6px ${FONT}`;
    (ctx as any).letterSpacing = '0.8px';
    ctx.fillText(s.title, s.titlePos[0], s.titlePos[1]);
    (ctx as any).letterSpacing = '0px';
    ctx.font = `bold 6.5px ${FONT}`;
    ctx.fillText(s.xTitle, s.xTitlePos[0], s.xTitlePos[1]);
    ctx.save();
    ctx.translate(s.yTitlePos[0], s.yTitlePos[1]);
    ctx.rotate(-Math.PI / 2);
    ctx.font = `bold 5.5px ${FONT}`;
    ctx.fillText(s.yTitle, 0, 0);
    ctx.restore();
    ctx.save();
    ctx.translate(s.letterPos[0], s.letterPos[1]);
    ctx.scale(s.letterScale, 1);
    ctx.font = `bold ${s.letterSize}px ${FONT}`;
    ctx.textAlign = 'left';
    ctx.textBaseline = 'alphabetic';
    ctx.fillStyle = '#000000';
    ctx.strokeStyle = '#000000';
    ctx.lineWidth = 2.4;
    ctx.lineJoin = 'round';
    ctx.strokeText(s.letter, 0, 0);
    ctx.fillText(s.letter, 0, 0);
    ctx.restore();
    ctx.restore();
  },
});

function Panel({ s }: { s: Spec }) {
  const ref = useRef<HTMLCanvasElement>(null);
  useEffect(() => {
    const [l, t, r, b] = s.inset;
    const tickFont = { family: FONT, size: s.tickSize };
    const chart = new Chart(ref.current as HTMLCanvasElement, {
      type: 'line',
      data: { datasets: s.datasets },
      options: {
        animation: false,
        responsive: false,
        events: [],
        layout: { padding: { left: 1, top: t, right: r, bottom: 1 } },
        plugins: { legend: { display: false }, tooltip: { enabled: false }, title: { display: false } },
        elements: { point: { radius: 0 } },
        scales: {
          x: {
            type: 'linear',
            min: s.xr[0],
            max: s.xr[1],
            afterBuildTicks: (sc: any) => { sc.ticks = s.xTicks.map((v) => ({ value: v })); },
            afterFit: (sc: any) => { sc.height = b - 1; sc.paddingLeft = 0; sc.paddingRight = 0; },
            ticks: { autoSkip: false, maxRotation: 0, minRotation: 0, font: tickFont, color: '#3a3a3a', padding: 1, callback: (v: any) => String(v) },
            grid: { drawOnChartArea: false, drawTicks: true, tickLength: 2, color: '#666' },
            border: { display: true, color: '#6a6a6a' },
          },
          y: {
            type: 'linear',
            min: s.yr[0],
            max: s.yr[1],
            afterBuildTicks: (sc: any) => { sc.ticks = s.yTicks.map((v) => ({ value: v })); },
            afterFit: (sc: any) => { sc.width = l - 1; sc.paddingTop = 0; sc.paddingBottom = 0; },
            ticks: { autoSkip: false, font: tickFont, color: '#3a3a3a', padding: s.yPad, callback: (v: any) => Number(v).toFixed(s.yDec) },
            grid: { drawOnChartArea: false, drawTicks: true, tickLength: s.yTickLen, color: '#555' },
            border: { display: true, color: '#6a6a6a' },
          },
        },
      } as any,
      plugins: [decorPlugin(s)],
    } as any);
    return () => chart.destroy();
  }, [s]);
  const [bx, by, bw, bh] = s.box;
  return (
    <div style={{ position: 'absolute', left: bx, top: by, width: bw, height: bh, background: PANEL_BG }}>
      <canvas ref={ref} width={bw} height={bh} style={{ display: 'block', width: bw, height: bh }} />
    </div>
  );
}

export default function App() {
  return (
    <div style={{ position: 'absolute', left: 0, top: 0, width: 1270, height: 525, background: '#ffffff', overflow: 'hidden' }}>
      {specs.map((s) => (
        <Panel key={s.id} s={s} />
      ))}
    </div>
  );
}
